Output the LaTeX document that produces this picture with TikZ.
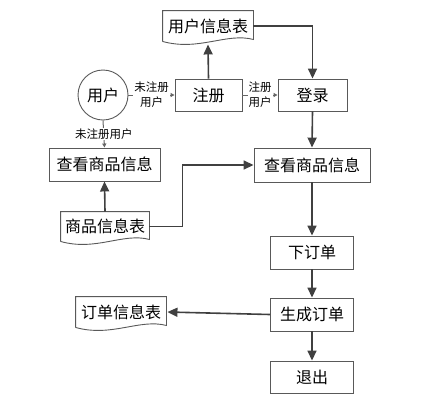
\documentclass[tikz,border=0pt]{standalone}
\usepackage{fontspec}
\setmainfont{Noto Sans CJK SC}
\usetikzlibrary{arrows.meta, calc}

\tikzset{
  procbox/.style={draw=black!65, line width=0.9pt, minimum height=33pt, inner sep=0pt, font=\fontsize{16}{19}\selectfont},
  docbox/.style={procbox, draw=none, minimum height=30pt},
  flow/.style={draw=black!75, line width=1.6pt, -{Triangle[length=10pt,width=9pt]}},
  thinflow/.style={draw=black!60, line width=1pt, -{Triangle[length=4pt,width=4pt]}},
  lbl/.style={fill=white, font=\fontsize{11.5}{15}\selectfont, align=center, inner sep=1pt}
}

% wavy lower edge of a document node
\newcommand{\docwave}[1]{%
  \draw[black!65, line width=0.9pt] (#1.south west) -- (#1.north west) -- (#1.north east)
    -- ($(#1.south east)+(0,-2)$)
    .. controls ($(#1.south east)!0.3!(#1.south west)+(0,-9)$) and ($(#1.south west)!0.4!(#1.south east)+(0,10)$) .. (#1.south west);}

\begin{document}
\begin{tikzpicture}[x=1pt, y=-1pt, >=stealth]
  \useasboundingbox (0,0) rectangle (443,400);

  % nodes
  \node[docbox, minimum width=90pt] (uinfo) at (208,26) {用户信息表};
  \node[draw=black!65, line width=0.9pt, circle, minimum size=50pt, inner sep=0pt,
        font=\fontsize{16}{19}\selectfont] (user) at (103,95) {用户};
  \node[procbox, minimum width=67pt, minimum height=32pt] (reg) at (208.5,95) {注册};
  \node[procbox, minimum width=69pt, minimum height=32pt] (login) at (312.5,95) {登录};
  \node[procbox, minimum width=111pt] (view1) at (104.5,164.5) {查看商品信息};
  \node[docbox, minimum width=88pt, minimum height=29pt] (ginfo) at (105,226.5) {商品信息表};
  \node[procbox, minimum width=116pt, minimum height=34pt] (view2) at (312,165) {查看商品信息};
  \node[procbox, minimum width=83pt] (order) at (312,252.5) {下订单};
  \node[procbox, minimum width=83pt] (gen) at (312,314.5) {生成订单};
  \node[procbox, minimum width=83pt, minimum height=32pt] (exit) at (312,377) {退出};
  \node[docbox, minimum width=90pt] (oinfo) at (121,312) {订单信息表};

  \docwave{uinfo}
  \docwave{ginfo}
  \docwave{oinfo}

  % connectors
  \draw[thinflow] (user.east) -- node[lbl] {未注册\\用户} (reg.west);
  \draw[thinflow] (reg.east) -- node[lbl] {注册\\用户} (login.west);
  \draw[thinflow] (user.south) -- node[lbl] {未注册用户} (view1.north);

  \draw[flow] (reg.north) -- ($(uinfo.south)+(0,3)$);
  \draw[flow] (uinfo.east) -| (login.north);
  \draw[flow] (login.south) -- (view2.north);
  \draw[flow] (ginfo.north) -- (view1.south);
  \draw[flow] (ginfo.east) -- ++(33,0) |- (view2.west);
  \draw[flow] (view2.south) -- (order.north);
  \draw[flow] (order.south) -- (gen.north);
  \draw[flow] (gen.south) -- (exit.north);
  \draw[flow] (gen.west) -- ($(oinfo.east)+(1,0)$);
\end{tikzpicture}
\end{document}
